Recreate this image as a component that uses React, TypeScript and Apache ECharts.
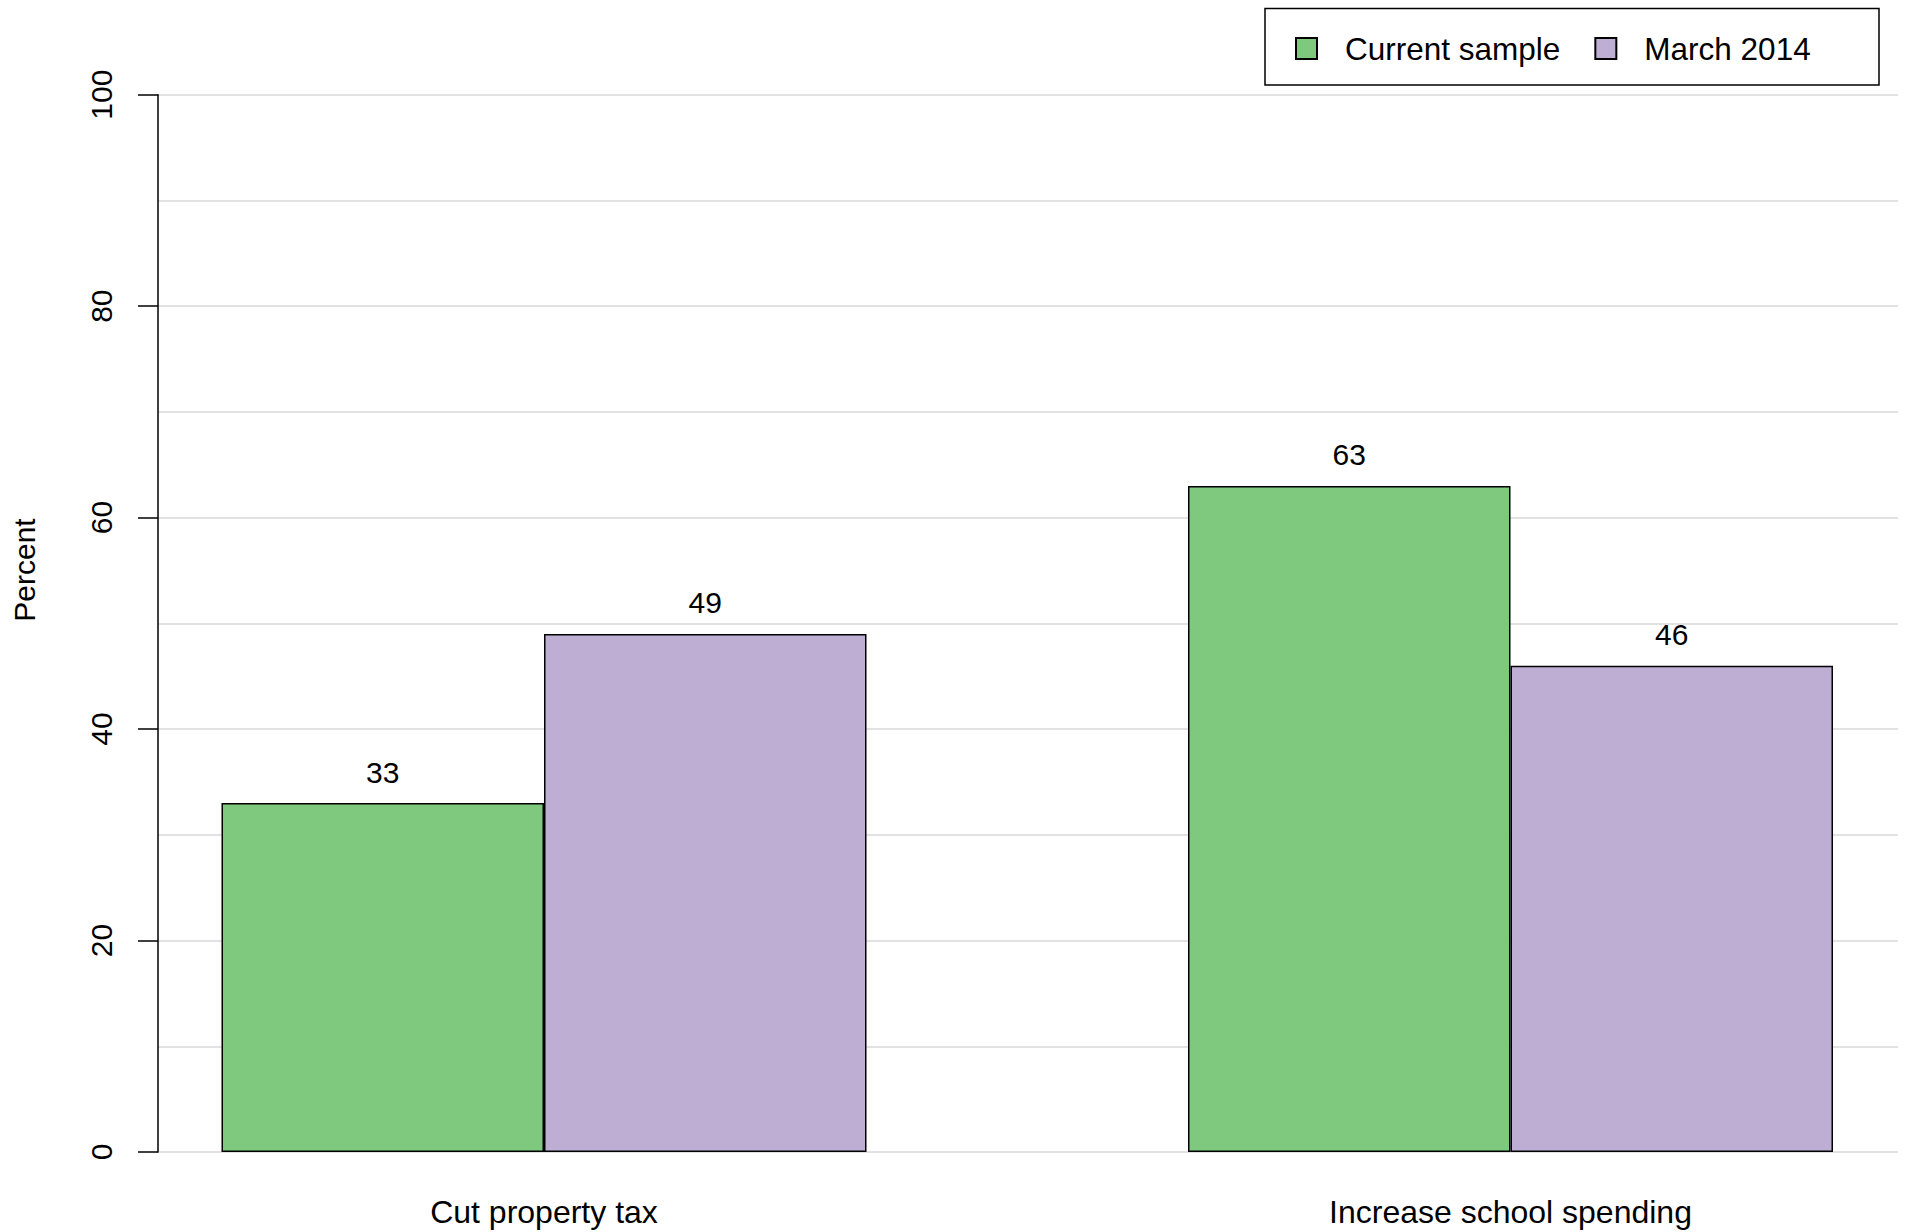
import React, { useEffect, useRef } from "react";
import * as echarts from "echarts";

const categories = ["Cut property tax", "Increase school spending"];
const seriesNames = ["Current sample", "March 2014"];
const currentSample = [33, 63];
const march2014 = [49, 46];
const yTicks = [0, 20, 40, 60, 80, 100];
const colors = ["#7FC97F", "#BEAED4"];

const FONT = "'Liberation Sans', Arial, Helvetica, sans-serif";

export default function App() {
  const ref = useRef<HTMLDivElement>(null);
  useEffect(() => {
    if (!ref.current) return;
    const chart = echarts.init(ref.current, null, { renderer: "svg" });
    const top = 94.7;
    const height = 1057.3;
    const barLabel = {
      show: true,
      position: "top",
      distance: 16,
      color: "#000",
      fontSize: 30,
      fontFamily: FONT,
    };
    const option = {
      animation: false,
      backgroundColor: "#ffffff",
      textStyle: { fontFamily: FONT },
      grid: [
        { left: 158, top, width: 1740, height, containLabel: false },
        { left: 544, top, width: 966.5, height, containLabel: false },
      ],
      xAxis: [
        { type: "value", gridIndex: 0, min: 0, max: 1, show: false },
        {
          type: "category",
          gridIndex: 1,
          data: categories,
          boundaryGap: false,
          axisLine: { show: false },
          axisTick: { show: false },
          axisLabel: { color: "#000", fontSize: 32, fontFamily: FONT, margin: 44 },
          splitLine: { show: false },
        },
      ],
      yAxis: [
        {
          type: "value",
          gridIndex: 0,
          min: yTicks[0],
          max: yTicks[yTicks.length - 1],
          interval: 20,
          axisLine: { show: true, lineStyle: { color: "#000", width: 1.5 } },
          axisTick: { show: true, inside: false, length: 20, lineStyle: { color: "#000", width: 1.5 } },
          axisLabel: {
            rotate: 90,
            color: "#000",
            fontSize: 30,
            fontFamily: FONT,
            margin: 42,
          },
          splitLine: { show: true, lineStyle: { color: "#d9d9d9", width: 1.5 } },
          minorTick: { show: false, splitNumber: 2 },
          minorSplitLine: { show: true, lineStyle: { color: "#d9d9d9", width: 1.5 } },
        },
        { type: "value", gridIndex: 1, min: 0, max: 100, show: false },
      ],
      legend: {
        left: 1295,
        top: 32.5,
        padding: 0,
        itemWidth: 21,
        itemHeight: 21,
        itemGap: 34,
        icon: "rect",
        data: seriesNames,
        textStyle: { color: "#000", fontSize: 31.5, fontFamily: FONT, padding: [0, 0, 0, 23] },
      },
      graphic: [
        {
          type: "rect",
          shape: { x: 1265, y: 8.5, width: 614, height: 76.5 },
          style: { fill: "transparent", stroke: "#000", lineWidth: 1.5 },
          z: 10,
        },
        {
          type: "text",
          x: 24,
          y: 570,
          rotation: Math.PI / 2,
          style: {
            text: "Percent",
            fill: "#000",
            fontSize: 30,
            fontFamily: FONT,
            align: "center",
            verticalAlign: "middle",
          },
        },
      ],
      series: [
        {
          name: seriesNames[0],
          type: "bar",
          xAxisIndex: 1,
          yAxisIndex: 1,
          data: currentSample,
          barWidth: 322.5,
          barGap: "0%",
          itemStyle: { color: colors[0], borderColor: "#000", borderWidth: 1.5 },
          label: barLabel,
        },
        {
          name: seriesNames[1],
          type: "bar",
          xAxisIndex: 1,
          yAxisIndex: 1,
          data: march2014,
          barWidth: 322.5,
          barGap: "0%",
          itemStyle: { color: colors[1], borderColor: "#000", borderWidth: 1.5 },
          label: barLabel,
        },
      ],
    };
    chart.setOption(option as any);
    return () => chart.dispose();
  }, []);
  return (
    <div
      ref={ref}
      style={{ position: "fixed", left: 0, top: 0, width: 1907, height: 1232, background: "#fff" }}
    />
  );
}
